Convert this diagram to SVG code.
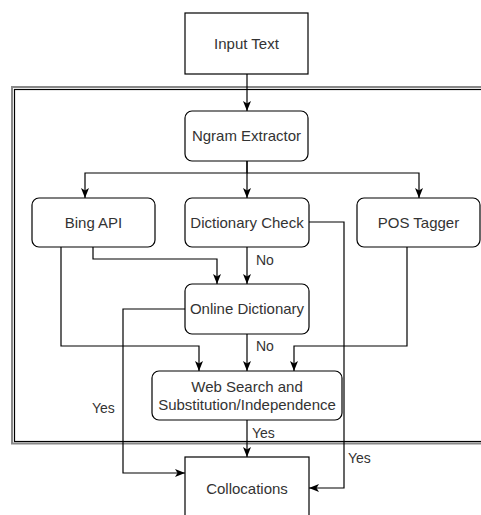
<svg xmlns="http://www.w3.org/2000/svg" width="481" height="515" viewBox="0 0 481 515">
<style>
.box{fill:#fff;stroke:#000;stroke-width:1.2}
.t{font-family:"Liberation Sans",Arial,sans-serif;font-size:15px;fill:#333;text-anchor:middle}
.l{font-family:"Liberation Sans",Arial,sans-serif;font-size:14px;fill:#333}
.e{fill:none;stroke:#000;stroke-width:1.2}
</style>
<defs>
<marker id="a" markerUnits="userSpaceOnUse" markerWidth="10" markerHeight="10" viewBox="0 0 10 10" refX="10" refY="5" orient="auto">
<path d="M0,1 L10,5 L0,9 L2.5,5 Z" fill="#000"/>
</marker>
</defs>
<rect width="481" height="515" fill="#fff"/>
<g id="frame">
<rect x="12" y="87" width="500" height="356.5" fill="none" stroke="#888" stroke-width="2"/>
<rect x="14.5" y="89.5" width="500" height="352" fill="none" stroke="#000" stroke-width="1.2"/>
</g>
<g id="connectors">
<path class="e" d="M247,74 V111" marker-end="url(#a)"/>
<path class="e" d="M247,161 V173 H85 V198" marker-end="url(#a)"/>
<path class="e" d="M247,161 V198" marker-end="url(#a)"/>
<path class="e" d="M247,173 H419 V198" marker-end="url(#a)"/>
<path class="e" d="M93,247 V259 H217 V284" marker-end="url(#a)"/>
<path class="e" d="M247,247 V284" marker-end="url(#a)"/>
<path class="e" d="M61,247 V346 H199 V371" marker-end="url(#a)"/>
<path class="e" d="M247,334 V371" marker-end="url(#a)"/>
<path class="e" d="M407,247 V346 H294 V371" marker-end="url(#a)"/>
<path class="e" d="M185,309 H123 V473 H185" marker-end="url(#a)"/>
<path class="e" d="M309,222 H344 V488 H309" marker-end="url(#a)"/>
<path class="e" d="M247,420 V457" marker-end="url(#a)"/>
<text class="l" x="256" y="265">No</text>
<text class="l" x="256" y="351">No</text>
<text class="l" x="92" y="413">Yes</text>
<text class="l" x="252" y="438">Yes</text>
<text class="l" x="348" y="463">Yes</text>
</g>
<g id="input"><rect class="box" x="185" y="13" width="123" height="61"/><text class="t" x="246.5" y="49">Input Text</text></g>
<g id="ngram"><rect class="box" x="185" y="111" width="123" height="50" rx="7"/><text class="t" x="246.5" y="141">Ngram Extractor</text></g>
<g id="bing"><rect class="box" x="32" y="198" width="123" height="49" rx="7"/><text class="t" x="93.5" y="228">Bing API</text></g>
<g id="dict"><rect class="box" x="185" y="198" width="124" height="49" rx="7"/><text class="t" x="247" y="228">Dictionary Check</text></g>
<g id="pos"><rect class="box" x="357" y="198" width="123" height="49" rx="7"/><text class="t" x="418.5" y="228">POS Tagger</text></g>
<g id="online"><rect class="box" x="185" y="284" width="124" height="50" rx="7"/><text class="t" x="247" y="314">Online Dictionary</text></g>
<g id="web"><rect class="box" x="152" y="371" width="190" height="49" rx="7"/><text class="t" x="247" y="392">Web Search and</text><text class="t" x="247" y="410">Substitution/Independence</text></g>
<g id="colloc"><rect class="box" x="185" y="457" width="124" height="70"/><text class="t" x="247" y="494">Collocations</text></g>
</svg>
